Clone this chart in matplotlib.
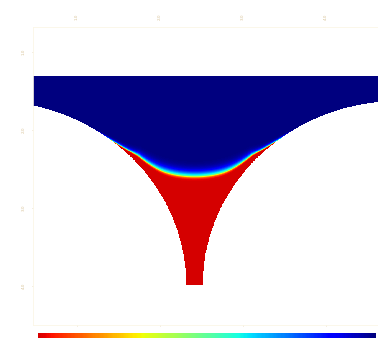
import numpy as np
import matplotlib.pyplot as plt
from matplotlib.colors import ListedColormap

# tick positions / labels (data units)
x_ticks = [1, 2, 3, 4]
x_labels = ['1.0', '2.0', '3.0', '4.0']
y_ticks = [1, 2, 3, 4]
y_labels = ['1.0', '2.0', '3.0', '4.0']

# geometry of the pore throat
x_lim = [0.47, 4.627]
y_lim = [4.5, 0.679]
top_y = 1.308          # top of fluid domain
throat_y = 3.99        # bottom of throat
throat_c = 2.416       # throat centre
throat_half = 0.1
wall_r = 2.36          # radius of the two grains

# meniscus (circle arc)
men_cx = 2.422
men_tip = 2.59
men_r = 1.44
men_contact = 2.40
w_red = 0.025
w_blue = 0.075
wall_shift = 0.28
wall_len = 0.06

nx, ny = 900, 900
xs = np.linspace(x_lim[0], x_lim[1], nx)
ys = np.linspace(y_lim[1], y_lim[0], ny)
X, Y = np.meshgrid(xs, ys)

cl = throat_c - throat_half - wall_r
cr = throat_c + throat_half + wall_r
dl = np.hypot(X - cl, Y - throat_y) - wall_r
dr = np.hypot(X - cr, Y - throat_y) - wall_r
dwall = np.minimum(dl, dr)

inside = (Y >= top_y) & (Y <= throat_y) & (dwall > 0)

men_cy = men_tip - men_r
r = np.hypot(X - men_cx, Y - men_cy)
d = np.minimum(r - men_r, Y - men_contact)
d = d + wall_shift * np.exp(-np.clip(dwall, 0, None) / wall_len)
w = np.where(d > 0, w_red, w_blue)
phi = 0.5 * (1 - np.tanh(d / w))
phi = np.where(inside, phi, np.nan)

base = plt.get_cmap('jet_r')
cmap = ListedColormap(base(np.linspace(0.075, 1.0, 256)))
cmap.set_bad('white')

fig = plt.figure(figsize=(3.78, 3.38), dpi=100)
ax = fig.add_axes([33/378, 13/338, 1 - 33/378, 298/338])
im = ax.imshow(phi, cmap=cmap, vmin=0, vmax=1, origin='upper',
               extent=[x_lim[0], x_lim[1], y_lim[0], y_lim[1]],
               aspect='auto', interpolation='nearest')
ax.set_xlim(x_lim)
ax.set_ylim(y_lim)

ax.set_xticks(x_ticks)
ax.set_xticklabels(x_labels, rotation=90)
ax.set_yticks(y_ticks)
ax.set_yticklabels(y_labels, rotation=90, va='center')
ax.xaxis.tick_top()
ax.tick_params(axis='both', labelsize=3, colors='#d8c49a', length=1,
               width=0.4, pad=4)
ax.tick_params(axis='x', bottom=True, top=False)
for s in ax.spines.values():
    s.set_color('#fbf6e6')
    s.set_linewidth(0.6)

cax = fig.add_axes([38/378, -0.01, 338/378, 0.025])
cb = fig.colorbar(im, cax=cax, orientation='horizontal')
cb.set_ticks([])
cb.outline.set_visible(False)

fig.savefig('out.png', dpi=100)
